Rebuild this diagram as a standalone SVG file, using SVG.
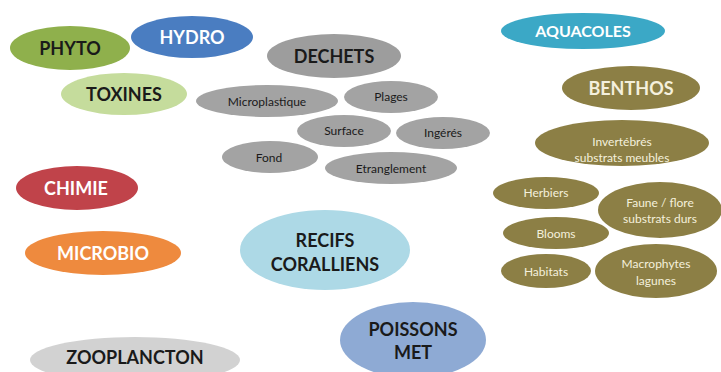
<svg xmlns="http://www.w3.org/2000/svg" width="721" height="372" viewBox="0 0 721 372">
<style>
text{font-family:Lato,"Open Sans","Liberation Sans",sans-serif;text-anchor:middle;dominant-baseline:central}
.big{font-size:18px;font-weight:bold}
.sm{font-size:12px}
.dk{fill:#1a1a1a}
.wh{fill:#ffffff}
.cr{fill:#f4f0dc}
.g{fill:#a3a3a3}
.b{fill:#8c7f45}
</style>
<rect width="721" height="372" fill="#ffffff"/>
<g id="nodes">
<g id="phyto"><ellipse cx="70" cy="48" rx="60" ry="22" fill="#8fb04c"/><text class="big dk" x="70" y="48">PHYTO</text></g>
<g id="hydro"><ellipse cx="192" cy="37" rx="61" ry="21" fill="#4a7dc1"/><text class="big wh" x="192" y="37">HYDRO</text></g>
<g id="toxines"><ellipse cx="124" cy="94" rx="63" ry="21" fill="#c5dc9c"/><text class="big dk" x="124" y="94">TOXINES</text></g>
<g id="dechets"><ellipse cx="334" cy="56" rx="67" ry="22" fill="#9d9d9d"/><text class="big dk" x="334" y="56">DECHETS</text></g>
<g id="micropl"><ellipse cx="267" cy="101" rx="71" ry="16" class="g"/><text class="sm dk" x="267" y="101">Microplastique</text></g>
<g id="plages"><ellipse cx="391" cy="97" rx="47" ry="16" class="g"/><text class="sm dk" x="391" y="96">Plages</text></g>
<g id="surface"><ellipse cx="344" cy="131" rx="47" ry="16" class="g"/><text class="sm dk" x="344" y="130">Surface</text></g>
<g id="ingeres"><ellipse cx="443" cy="133" rx="47" ry="16" class="g"/><text class="sm dk" x="443" y="132">Ingérés</text></g>
<g id="fond"><ellipse cx="270" cy="157" rx="48" ry="16" class="g"/><text class="sm dk" x="269" y="157">Fond</text></g>
<g id="etrang"><ellipse cx="391" cy="168" rx="66" ry="16" class="g"/><text class="sm dk" x="391" y="168">Etranglement</text></g>
<g id="aquacoles"><ellipse cx="583" cy="31" rx="82" ry="18" fill="#3ba8c6"/><text class="big wh" x="583" y="30" style="font-size:16px">AQUACOLES</text></g>
<g id="benthos"><ellipse cx="631" cy="88" rx="69" ry="22" class="b"/><text class="big cr" x="631" y="88">BENTHOS</text></g>
<g id="invert"><ellipse cx="622" cy="143" rx="87" ry="23" class="b"/><text class="sm cr" x="622" y="141">Invertébrés</text><text class="sm cr" x="622" y="157">substrats meubles</text></g>
<g id="herbiers"><ellipse cx="546" cy="193" rx="53" ry="16" class="b"/><text class="sm cr" x="546" y="192">Herbiers</text></g>
<g id="faune"><ellipse cx="660" cy="210" rx="62" ry="28" class="b"/><text class="sm cr" x="660" y="202">Faune / flore</text><text class="sm cr" x="660" y="218">substrats durs</text></g>
<g id="blooms"><ellipse cx="556" cy="233" rx="53" ry="16" class="b"/><text class="sm cr" x="556" y="233">Blooms</text></g>
<g id="habitats"><ellipse cx="546" cy="271" rx="45" ry="17" class="b"/><text class="sm cr" x="546" y="271">Habitats</text></g>
<g id="macro"><ellipse cx="656" cy="271" rx="61" ry="27" class="b"/><text class="sm cr" x="656" y="263">Macrophytes</text><text class="sm cr" x="656" y="280">lagunes</text></g>
<g id="chimie"><ellipse cx="77" cy="188" rx="61" ry="22" fill="#c0434a"/><text class="big wh" x="76" y="188">CHIMIE</text></g>
<g id="microbio"><ellipse cx="103" cy="253" rx="78" ry="22" fill="#ee8a3e"/><text class="big wh" x="103" y="253">MICROBIO</text></g>
<g id="zoo"><ellipse cx="135" cy="360" rx="105" ry="23" fill="#d2d2d2"/><text class="big dk" x="135" y="357">ZOOPLANCTON</text></g>
<g id="recifs"><ellipse cx="325" cy="250" rx="85" ry="40" fill="#add9e6"/><text class="big dk" x="325" y="240">RECIFS</text><text class="big dk" x="325" y="264">CORALLIENS</text></g>
<g id="poissons"><ellipse cx="413" cy="340" rx="73" ry="38" fill="#8eaad4"/><text class="big dk" x="413" y="329">POISSONS</text><text class="big dk" x="413" y="352">MET</text></g>
</g>
<g id="connectors"></g>
</svg>
